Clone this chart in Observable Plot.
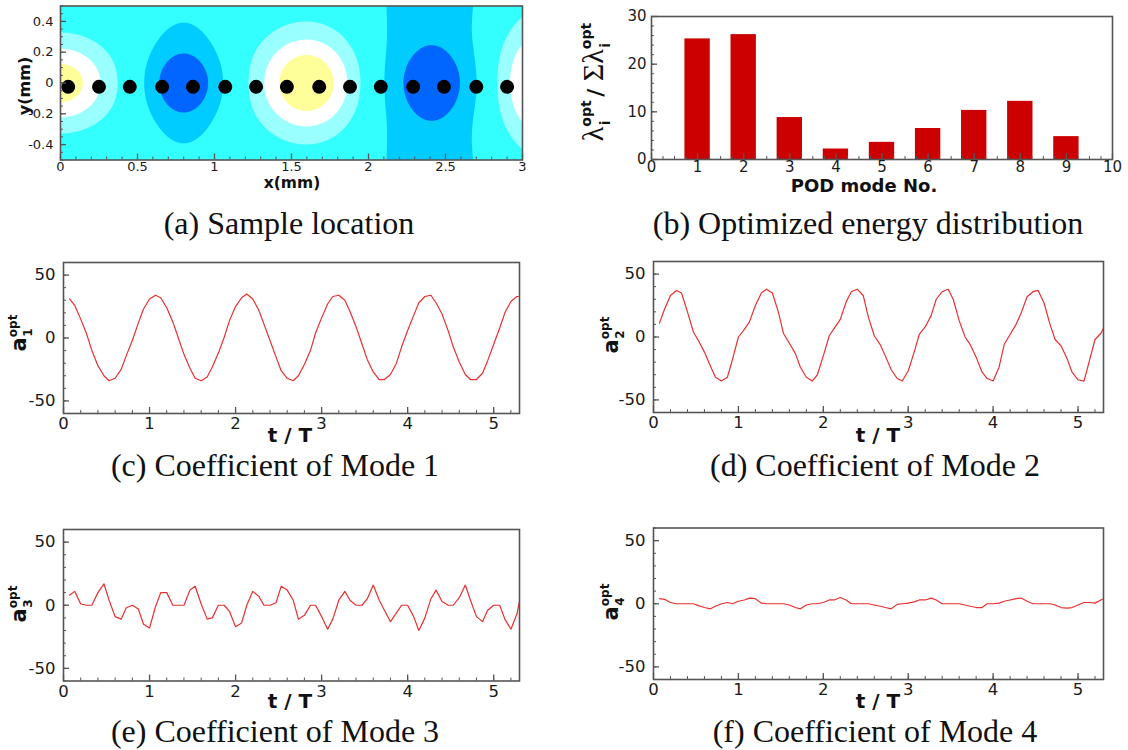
<!DOCTYPE html>
<html><head><meta charset="utf-8">
<script src="https://cdn.jsdelivr.net/npm/d3@7"></script>
<script src="https://cdn.jsdelivr.net/npm/@observablehq/plot@0.6"></script>
<style>
html,body{margin:0;padding:0;background:#fff;}
#page{position:relative;width:1128px;height:750px;overflow:hidden;}
#page svg{position:absolute;}
</style></head><body><div id="page"></div>
<script>
// ---------- panel (a): sample locations and contour field ----------
const sampleX = [0.05,0.25,0.45,0.66,0.86,1.07,1.27,1.47,1.68,1.88,2.08,2.29,2.49,2.70,2.90];
const sampleY = [-0.025,-0.025,-0.025,-0.025,-0.025,-0.025,-0.025,-0.025,-0.025,-0.025,-0.025,-0.025,-0.025,-0.025,-0.025];
const blobX   = [0.0, 1.6, 3.2, 0.8, 0.8, 2.41, 2.42];
const blobY   = [0.0, 0.0, 0.0, 0.0, 0.0, 0.0, 0.0];
const blobAmp = [0.9, 1.0, 1.0, -0.45, -0.6, -0.45, -0.55];
const blobSx  = [0.34, 0.335, 0.37, 0.22, 0.22, 0.35, 0.24];
const blobSy  = [0.29, 0.34, 0.43, 0.42, 0.2, 2.0, 0.225];
const contourLevels = [-0.6, -0.2, 0.25, 0.5, 0.75];
const contourColors = ["#0066ff", "#00ccff", "#33ffff", "#99ffff", "#ffffff", "#ffff99"];
const aXTicks = [0, 0.5, 1, 1.5, 2, 2.5, 3];
const aYTicks = [-0.4, -0.2, 0, 0.2, 0.4];

// ---------- panel (b): optimized energy distribution ----------
const podMode = [1, 2, 3, 4, 5, 6, 7, 8, 9];
const energyPct = [25.3, 26.2, 8.8, 2.2, 3.6, 6.5, 10.3, 12.2, 4.8];
const bXTicks = [0, 1, 2, 3, 4, 5, 6, 7, 8, 9, 10];
const bYTicks = [0, 10, 20, 30];

// ---------- panels (c)-(f): mode coefficients ----------
const tT = [0.07,0.13,0.2,0.27,0.33,0.4,0.47,0.53,0.6,0.67,0.73,0.8,0.87,0.93,1.0,
  1.07,1.13,1.2,1.27,1.33,1.4,1.47,1.53,1.6,1.67,1.73,1.8,1.87,1.93,2.0,
  2.07,2.13,2.2,2.27,2.33,2.4,2.47,2.53,2.6,2.67,2.73,2.8,2.87,2.93,3.0,
  3.07,3.13,3.2,3.27,3.33,3.4,3.47,3.53,3.6,3.67,3.73,3.8,3.87,3.93,4.0,
  4.07,4.13,4.2,4.27,4.33,4.4,4.47,4.53,4.6,4.67,4.73,4.8,4.87,4.93,5.0,
  5.07,5.13,5.2,5.27,5.3];
const a1 = [31,26,15,3,-10,-22,-30,-34,-32,-25,-14,-2,12,23,31,
  34,32,24,13,1,-13,-24,-32,-34,-31,-23,-12,1,14,25,
  32,35,31,22,11,-2,-15,-26,-32,-34,-30,-21,-10,4,16,
  27,33,34,30,21,9,-5,-17,-27,-33,-33,-29,-20,-7,6,
  18,28,33,34,28,19,6,-7,-19,-29,-33,-33,-28,-18,-5,
  8,20,29,33,33];
const a2 = [11,22,33,37,35,20,4,-3,-12,-23,-32,-35,-32,-18,0,
  6,12,25,35,38,35,20,3,-5,-13,-24,-32,-35,-30,-15,
  1,7,14,28,36,38,33,16,1,-6,-15,-26,-33,-35,-27,
  -12,2,8,17,30,36,38,30,13,0,-6,-16,-28,-33,-35,
  -24,-6,2,10,19,32,36,37,27,10,-2,-7,-17,-28,-34,
  -35,-20,-2,3,7];
const a3 = [8,11,1,0,0,10,17,4,-9,-11,-2,0,-3,-15,-18,
  -1,10,10,0,0,0,12,15,1,-11,-10,0,0,-5,-17,
  -14,0,11,7,0,0,2,15,12,4,-11,-8,0,0,-9,
  -19,-11,4,11,4,0,0,5,16,4,-4,-13,-6,0,0,
  -9,-20,-10,5,12,3,0,0,6,16,4,-9,-13,-4,0,
  0,-11,-19,-7,3];
const a4 = [4,3.5,1,0,0,0,0,-1.5,-3,-4,-2,0,1,0,2,
  3,4.5,4,0.5,0,0,0,0,-1,-3,-4,-1,0,0,1,
  3,3,5,3,0,0,0,0,-1,-2,-3,-4,-0.5,0,0.5,
  1.5,3,3,4.5,3,0,0,0,0,-1,-2,-3,-3,0,0,
  0.5,2,3,4,4.5,2,0,0,0,0,-1,-3,-3.5,-3,-1,
  1,1,0.5,3,4];
const coefXTicks = [0, 1, 2, 3, 4, 5];
const coefYTicks = [-50, 0, 50];
const captions = ["(a) Sample location", "(b) Optimized energy distribution",
  "(c) Coefficient of Mode 1", "(d) Coefficient of Mode 2",
  "(e) Coefficient of Mode 3", "(f) Coefficient of Mode 4"];

// ---------- drawing ----------
const sans = "'DejaVu Sans', Verdana, sans-serif";
const serif = "'Liberation Serif', 'Times New Roman', Times, serif";
const axisColor = "#555555";
const lineColor = "#e8302f";
const page = document.getElementById("page");
const fmt = d => String(d);

function panel(o) {
  const iw = o.width - o.ml - o.mr, ih = o.height - o.mt - o.mb;
  const svg = Plot.plot({
    width: o.width, height: o.height,
    marginTop: o.mt, marginRight: o.mr, marginBottom: o.mb, marginLeft: o.ml,
    x: {domain: o.xDomain, axis: null},
    y: {domain: o.yDomain, axis: null},
    color: o.color,
    style: {fontFamily: sans, color: "#1a1a1a", background: "transparent", overflow: "visible"},
    marks: [
      ...o.marks,
      Plot.ruleX(o.xMinor, {insetTop: ih - 3, stroke: axisColor, strokeWidth: 1}),
      Plot.ruleX(o.xMajor, {insetTop: ih - 6, stroke: axisColor, strokeWidth: 1.3}),
      Plot.ruleY(o.yMinor, {insetRight: iw - 3, stroke: axisColor, strokeWidth: 1}),
      Plot.ruleY(o.yMajor, {insetRight: iw - 6, stroke: axisColor, strokeWidth: 1.3}),
      Plot.frame({stroke: axisColor, strokeWidth: 1.6}),
      Plot.axisX(o.xMajor, {tickSize: 0, tickPadding: o.xPad, fontSize: o.fontSize, tickFormat: fmt, label: null}),
      Plot.axisY(o.yMajor, {tickSize: 0, tickPadding: o.yPad, fontSize: o.fontSize, tickFormat: fmt, label: null})
    ]
  });
  svg.style.left = o.left + "px";
  svg.style.top = o.top + "px";
  page.appendChild(svg);
}

function field(x, y) {
  let s = 0;
  for (let i = 0; i < blobX.length; i++) {
    const dx = (x - blobX[i]) / blobSx[i], dy = (y - blobY[i]) / blobSy[i];
    s += blobAmp[i] * Math.exp(-dx * dx - dy * dy);
  }
  return s;
}

// (a)
panel({
  left: 0, top: 0, width: 540, height: 200, mt: 5.5, mr: 18, mb: 40.5, ml: 60,
  xDomain: [0, 3], yDomain: [-0.5, 0.5],
  xMajor: aXTicks, xMinor: d3.range(0, 3.001, 0.1),
  yMajor: aYTicks, yMinor: d3.range(-0.5, 0.501, 0.05),
  fontSize: 13, xPad: 1.5, yPad: 7,
  color: {type: "threshold", domain: contourLevels, range: contourColors},
  marks: [
    Plot.contour({x1: 0, x2: 3, y1: -0.5, y2: 0.5, fill: field,
      thresholds: [-10, ...contourLevels], pixelSize: 1, stroke: "none"}),
    Plot.dot(sampleX.map((x, i) => ({x, y: sampleY[i]})), {x: "x", y: "y", r: 7, fill: "black"})
  ]
});

// (b)
panel({
  left: 560, top: 0, width: 568, height: 200, mt: 16, mr: 16, mb: 41, ml: 91,
  xDomain: [0, 10], yDomain: [0, 30],
  xMajor: bXTicks, xMinor: d3.range(0, 10.001, 0.25),
  yMajor: bYTicks, yMinor: d3.range(0, 30.001, 2),
  fontSize: 15, xPad: 2, yPad: 5,
  marks: [
    Plot.rectY(podMode.map((m, i) => ({m, v: energyPct[i]})),
      {x1: d => d.m - 0.275, x2: d => d.m + 0.275, y1: 0, y2: "v", fill: "#cc0000"})
  ]
});

// (c)-(f)
const coefPanels = [
  {left: 0, top: 240, mt: 22, mb: 27, ml: 63, mr: 21, width: 540, data: a1},
  {left: 560, top: 240, mt: 21, mb: 28, ml: 93, mr: 25, width: 568, data: a2},
  {left: 0, top: 505, mt: 24, mb: 24.5, ml: 63, mr: 21, width: 540, data: a3},
  {left: 560, top: 505, mt: 22.5, mb: 26, ml: 93, mr: 25, width: 568, data: a4}
];
for (const p of coefPanels) {
  panel({
    left: p.left, top: p.top, width: p.width, height: 200, mt: p.mt, mr: p.mr, mb: p.mb, ml: p.ml,
    xDomain: [0, 5.3], yDomain: [-60, 60],
    xMajor: coefXTicks, xMinor: d3.range(0, 5.301, 0.2),
    yMajor: coefYTicks, yMinor: d3.range(-60, 60.001, 10),
    fontSize: 16.5, xPad: 4, yPad: 8,
    marks: [
      Plot.line(tT.map((t, i) => ({t, v: p.data[i]})), {x: "t", y: "v", stroke: lineColor, strokeWidth: 1.2})
    ]
  });
}

// ---------- overlay texts ----------
const ov = d3.create("svg").attr("width", 1128).attr("height", 750)
  .style("left", "0px").style("top", "0px").style("pointer-events", "none");

function txt(x, y, s, size, opts = {}) {
  return ov.append("text").attr("x", x).attr("y", y).attr("text-anchor", "middle")
    .attr("font-family", opts.family || sans).attr("font-size", size)
    .attr("font-weight", opts.weight || "normal").attr("fill", "#111").text(s);
}
function rotTxt(x, y, s, size) {
  ov.append("text").attr("transform", `translate(${x},${y}) rotate(-90)`)
    .attr("text-anchor", "middle").attr("font-family", sans).attr("font-size", size)
    .attr("font-weight", "bold").attr("fill", "#111").text(s);
}
function aLabel(x, y, sub) {
  const t = ov.append("text").attr("transform", `translate(${x},${y}) rotate(-90)`)
    .attr("text-anchor", "middle").attr("font-family", sans).attr("font-weight", "bold").attr("fill", "#111");
  t.append("tspan").attr("font-size", 21).text("a");
  t.append("tspan").attr("font-size", 12).attr("dy", -9).text("opt");
  t.append("tspan").attr("font-size", 12).attr("dx", -22).attr("dy", 15).text(sub);
}

// axis titles
txt(292, 188, "x(mm)", 15.5, {weight: "bold"});
rotTxt(30, 86, "y(mm)", 16);
txt(864, 192, "POD mode No.", 18, {weight: "bold"});
for (const [x, y] of [[290, 442], [878, 442], [290, 708], [878, 708]]) txt(x, y, "t / T", 20, {weight: "bold"});
aLabel(26, 333, "1");
aLabel(618, 335, "2");
aLabel(26, 604, "3");
aLabel(618, 602, "4");

// lambda label for (b)
{
  const t = ov.append("text").attr("transform", "translate(603,82) rotate(-90)")
    .attr("text-anchor", "middle").attr("fill", "#111");
  t.append("tspan").attr("font-family", serif).attr("font-size", 30).text("λ");
  t.append("tspan").attr("font-family", sans).attr("font-weight", "bold").attr("font-size", 14).attr("dy", -12).text("opt");
  t.append("tspan").attr("font-family", sans).attr("font-weight", "bold").attr("font-size", 14).attr("dx", -25).attr("dy", 19).text("i");
  t.append("tspan").attr("font-family", sans).attr("font-weight", "bold").attr("font-size", 22).attr("dx", 16).attr("dy", -7).text(" / ");
  t.append("tspan").attr("font-family", serif).attr("font-size", 30).text("Σλ");
  t.append("tspan").attr("font-family", sans).attr("font-weight", "bold").attr("font-size", 14).attr("dy", -12).text("opt");
  t.append("tspan").attr("font-family", sans).attr("font-weight", "bold").attr("font-size", 14).attr("dx", -25).attr("dy", 19).text("i");
}

// captions
const capPos = [[289, 234], [868, 234], [275, 476], [875, 476], [275, 742], [875, 742]];
captions.forEach((c, i) => txt(capPos[i][0], capPos[i][1], c, 32, {family: serif}));

page.appendChild(ov.node());
</script></body></html>
